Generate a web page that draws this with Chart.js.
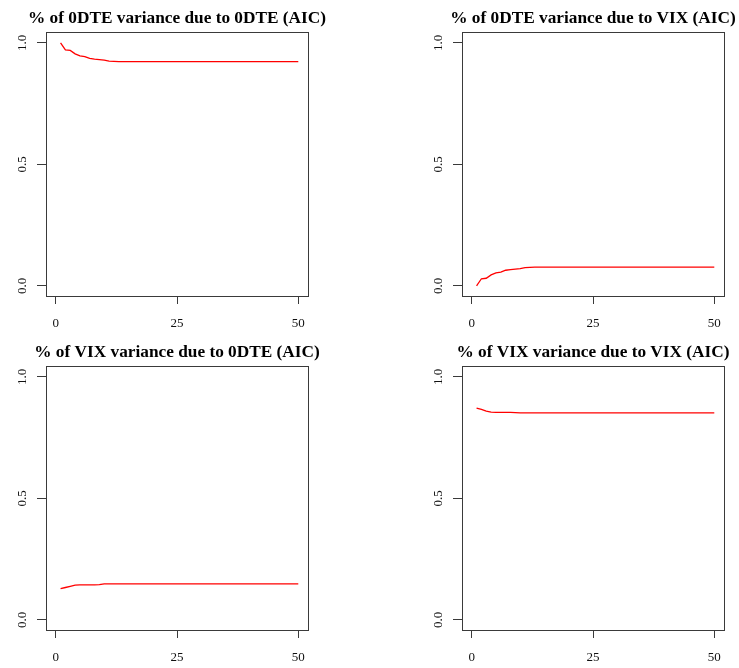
<!DOCTYPE html>
<html><head><meta charset="utf-8">
<script src="https://cdn.jsdelivr.net/npm/chart.js@4/dist/chart.umd.min.js"></script>
<style>
html,body{margin:0;padding:0;background:#fff;}
#wrap{position:relative;width:739px;height:668px;overflow:hidden;background:#fff;}
.p{position:absolute;}
canvas{display:block;}
</style></head><body>
<div id="wrap">
<div class="p" style="left:0;top:0;width:370px;height:334px"><canvas id="c1" width="370" height="334"></canvas></div>
<div class="p" style="left:370px;top:0;width:400px;height:334px"><canvas id="c2" width="400" height="334"></canvas></div>
<div class="p" style="left:0;top:334px;width:370px;height:334px"><canvas id="c3" width="370" height="334"></canvas></div>
<div class="p" style="left:370px;top:334px;width:400px;height:334px"><canvas id="c4" width="400" height="334"></canvas></div>
</div>
<script>
// forecast horizon steps
const steps = [1,2,3,4,5,6,7,8,9,10,11,12,13,14,15,16,17,18,19,20,21,22,23,24,25,26,27,28,29,30,31,32,33,34,35,36,37,38,39,40,41,42,43,44,45,46,47,48,49,50];

const titles = [
  "% of 0DTE variance due to 0DTE (AIC)",
  "% of 0DTE variance due to VIX (AIC)",
  "% of VIX variance due to 0DTE (AIC)",
  "% of VIX variance due to VIX (AIC)"
];

const odteFromOdte = [1.000,0.971,0.969,0.955,0.947,0.944,0.936,0.933,0.931,0.929,0.925,0.924,0.923,0.923,0.923,0.923,0.923,0.923,0.923,0.923,0.923,0.923,0.923,0.923,0.923,0.923,0.923,0.923,0.923,0.923,0.923,0.923,0.923,0.923,0.923,0.923,0.923,0.923,0.923,0.923,0.923,0.923,0.923,0.923,0.923,0.923,0.923,0.923,0.923,0.923];
const odteFromVix = [0.000,0.029,0.031,0.045,0.053,0.056,0.064,0.067,0.069,0.071,0.075,0.076,0.077,0.077,0.077,0.077,0.077,0.077,0.077,0.077,0.077,0.077,0.077,0.077,0.077,0.077,0.077,0.077,0.077,0.077,0.077,0.077,0.077,0.077,0.077,0.077,0.077,0.077,0.077,0.077,0.077,0.077,0.077,0.077,0.077,0.077,0.077,0.077,0.077,0.077];
const vixFromOdte = [0.128,0.133,0.138,0.143,0.144,0.144,0.144,0.144,0.145,0.148,0.148,0.148,0.148,0.148,0.148,0.148,0.148,0.148,0.148,0.148,0.148,0.148,0.148,0.148,0.148,0.148,0.148,0.148,0.148,0.148,0.148,0.148,0.148,0.148,0.148,0.148,0.148,0.148,0.148,0.148,0.148,0.148,0.148,0.148,0.148,0.148,0.148,0.148,0.148,0.148];
const vixFromVix = [0.872,0.866,0.859,0.855,0.854,0.854,0.854,0.854,0.853,0.852,0.852,0.852,0.852,0.852,0.852,0.852,0.852,0.852,0.852,0.852,0.852,0.852,0.852,0.852,0.852,0.852,0.852,0.852,0.852,0.852,0.852,0.852,0.852,0.852,0.852,0.852,0.852,0.852,0.852,0.852,0.852,0.852,0.852,0.852,0.852,0.852,0.852,0.852,0.852,0.852];

const xTicks = [0, 25, 50];
const xTickLabels = ["0", "25", "50"];
const yTicks = [0, 0.5, 1];
const yTickLabels = ["0.0", "0.5", "1.0"];

const SERIF = "'Liberation Serif','Times New Roman',serif";
const AXIS = '#3a3a3a';

const boxPlugin = {
  id: 'box',
  afterDraw(chart) {
    const {ctx, chartArea: a} = chart;
    ctx.save();
    ctx.strokeStyle = AXIS;
    ctx.lineWidth = 1;
    const l = Math.round(a.left) + 0.5, t = Math.round(a.top) + 0.5;
    const r = Math.round(a.right) + 0.5, b = Math.round(a.bottom) + 0.5;
    ctx.strokeRect(l, t, r - l, b - t);
    ctx.restore();
  }
};

function makePanel(id, title, values, padL, padR) {
  new Chart(document.getElementById(id), {
    type: 'line',
    data: {
      datasets: [{
        data: steps.map((s, i) => ({x: s, y: values[i]})),
        borderColor: '#ff0000',
        borderWidth: 1.3,
        pointRadius: 0,
        tension: 0,
        fill: false
      }]
    },
    options: {
      responsive: false,
      animation: false,
      events: [],
      layout: {padding: {left: padL, right: padR, top: 0, bottom: 0}},
      plugins: {
        legend: {display: false},
        tooltip: {enabled: false},
        title: {
          display: true, text: title, fullSize: true, align: 'center',
          color: '#000',
          font: {family: SERIF, size: 17.3, weight: 'bold', lineHeight: 1.2},
          padding: {top: 8, bottom: 3.24}
        }
      },
      scales: {
        x: {
          type: 'linear', min: -2, max: 52,
          afterBuildTicks: a => { a.ticks = xTicks.map(v => ({value: v})); },
          afterFit: s => { s.height = 38; },
          grid: {drawOnChartArea: false, drawTicks: true, tickLength: 8, color: AXIS, lineWidth: 1},
          border: {display: false},
          ticks: {
            font: {family: SERIF, size: 13}, color: '#111', padding: 11.5,
            maxRotation: 0, minRotation: 0,
            callback: (v, i) => xTickLabels[i]
          }
        },
        y: {
          type: 'linear', min: -0.042, max: 1.045,
          afterBuildTicks: a => { a.ticks = yTicks.map(v => ({value: v})); },
          afterFit: s => { s.width = 46; },
          grid: {drawOnChartArea: false, drawTicks: true, tickLength: 9, color: AXIS, lineWidth: 1},
          border: {display: false},
          ticks: {
            font: {family: SERIF, size: 13}, color: '#111', padding: 6.5,
            minRotation: 90, maxRotation: 90, crossAlign: 'center',
            callback: (v, i) => yTickLabels[i]
          }
        },
        // empty right-hand margin so the title centres over the plot box
        yMargin: {
          type: 'linear', position: 'right', display: true,
          grid: {display: false}, border: {display: false},
          ticks: {display: false},
          afterFit: s => { s.width = 46; }
        }
      }
    },
    plugins: [boxPlugin]
  });
}

makePanel('c1', titles[0], odteFromOdte, 0, 16);
makePanel('c2', titles[1], odteFromVix, 46, 0);
makePanel('c3', titles[2], vixFromOdte, 0, 16);
makePanel('c4', titles[3], vixFromVix, 46, 0);
</script>
</body></html>
